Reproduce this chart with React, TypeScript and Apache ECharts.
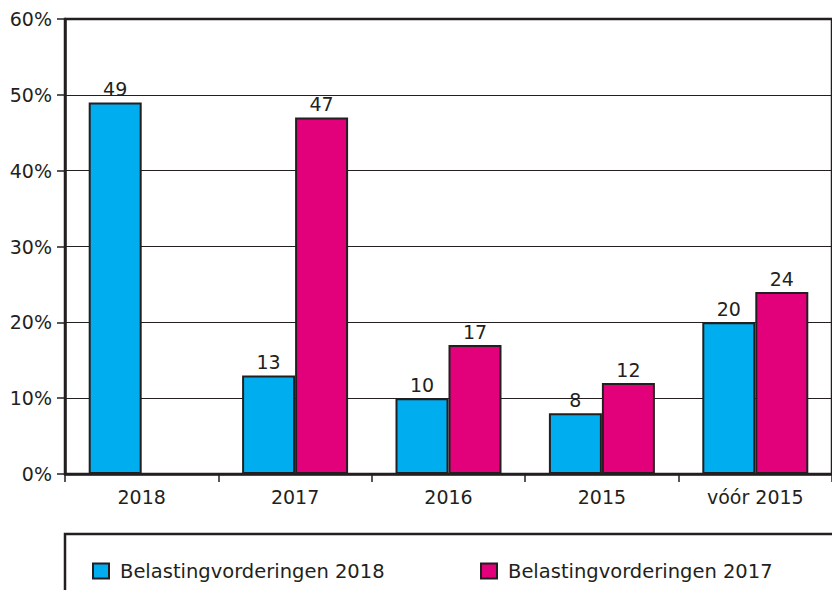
import React, { useEffect, useRef } from "react";
import * as echarts from "echarts";

const categories = ["2018", "2017", "2016", "2015", "vóór 2015"];
const series2018 = [49, 13, 10, 8, 20];
const series2017: (number | null)[] = [null, 47, 17, 12, 24];
const seriesNames = ["Belastingvorderingen 2018", "Belastingvorderingen 2017"];
const yTicks = { min: 0, max: 60, interval: 10 };

const INK = "#231f20";
const BLUE = "#00aeef";
const PINK = "#e3007b";
const FONT = "DejaVu Sans";
const FS = 19;

export default function App() {
  const ref = useRef<HTMLDivElement>(null);
  useEffect(() => {
    if (!ref.current) return;
    const chart = echarts.init(ref.current, undefined, { renderer: "svg" });
    const barLabel = {
      show: true,
      position: "top" as const,
      distance: 4,
      color: INK,
      fontFamily: FONT,
      fontSize: FS,
    };
    const legendBase = {
      orient: "horizontal" as const,
      top: 556,
      itemWidth: 16,
      itemHeight: 15,
      icon: "rect",
      textStyle: {
        color: INK,
        fontFamily: FONT,
        fontSize: 19.5,
        padding: [0, 0, 0, 6],
      },
      itemStyle: { borderColor: INK, borderWidth: 2 },
      selectedMode: false,
    };
    chart.setOption({
      animation: false,
      backgroundColor: "#ffffff",
      grid: {
        left: 65,
        top: 19,
        width: 775,
        height: 455,
        show: true,
        borderColor: INK,
        borderWidth: 2.5,
        backgroundColor: "transparent",
      },
      legend: [
        { ...legendBase, left: 87, data: [seriesNames[0]] },
        { ...legendBase, left: 475, data: [seriesNames[1]] },
      ],
      xAxis: {
        type: "category",
        data: categories,
        axisLine: { show: true, lineStyle: { color: INK, width: 2.5 } },
        axisTick: { show: true, length: 8, lineStyle: { color: INK, width: 1.5 } },
        axisLabel: { color: INK, fontFamily: FONT, fontSize: FS, margin: 13 },
      },
      yAxis: {
        type: "value",
        min: yTicks.min,
        max: yTicks.max,
        interval: yTicks.interval,
        axisLine: { show: true, lineStyle: { color: INK, width: 2.5 } },
        axisTick: { show: true, length: 8, lineStyle: { color: INK, width: 1.5 } },
        axisLabel: {
          color: INK,
          fontFamily: FONT,
          fontSize: FS,
          margin: 13,
          formatter: "{value}%",
        },
        splitLine: { show: true, lineStyle: { color: INK, width: 1 } },
      },
      graphic: [
        {
          type: "rect",
          shape: { x: 65, y: 534, width: 800, height: 100 },
          style: { fill: "none", stroke: INK, lineWidth: 2.5 },
          silent: true,
        },
      ],
      series: [
        {
          name: seriesNames[0],
          type: "bar",
          data: series2018,
          barWidth: 53,
          barGap: "0%",
          itemStyle: { color: BLUE, borderColor: INK, borderWidth: 2 },
          label: barLabel,
        },
        {
          name: seriesNames[1],
          type: "bar",
          data: series2017,
          barWidth: 53,
          barGap: "0%",
          itemStyle: { color: PINK, borderColor: INK, borderWidth: 2 },
          label: barLabel,
        },
      ],
    });
    return () => chart.dispose();
  }, []);
  return (
    <div
      ref={ref}
      style={{ width: 832, height: 590, position: "absolute", left: 0, top: 0 }}
    />
  );
}
